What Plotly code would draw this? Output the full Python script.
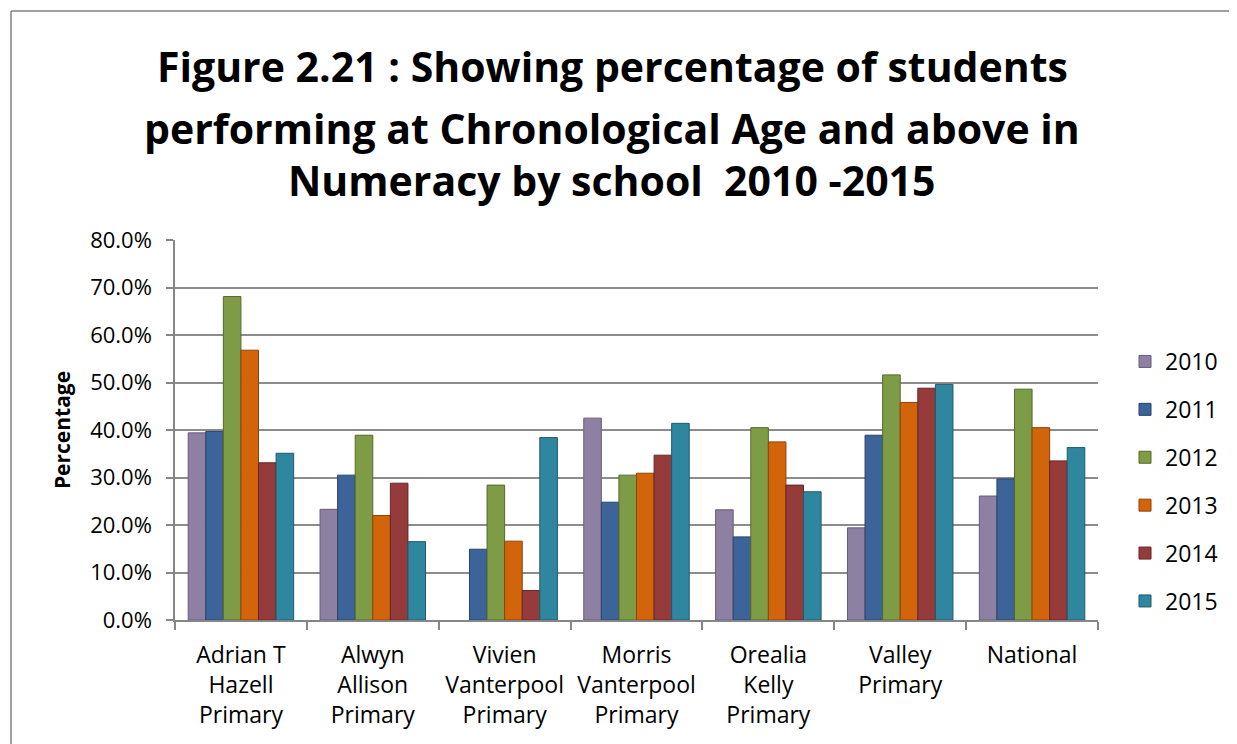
import plotly.graph_objects as go

schools = [
    "Adrian T<br>Hazell<br>Primary",
    "Alwyn<br>Allison<br>Primary",
    "Vivien<br>Vanterpool<br>Primary",
    "Morris<br>Vanterpool<br>Primary",
    "Orealia<br>Kelly<br>Primary",
    "Valley<br>Primary",
    "National",
]

years = ["2010", "2011", "2012", "2013", "2014", "2015"]

y2010 = [39.4, 23.3, None, 42.5, 23.2, 19.4, 26.1]
y2011 = [39.7, 30.5, 14.9, 24.8, 17.5, 38.9, 29.7]
y2012 = [68.1, 38.9, 28.4, 30.5, 40.5, 51.6, 48.6]
y2013 = [56.8, 22.0, 16.6, 30.9, 37.5, 45.8, 40.5]
y2014 = [33.1, 28.8, 6.2, 34.7, 28.4, 48.8, 33.5]
y2015 = [35.1, 16.5, 38.4, 41.4, 27.0, 49.6, 36.3]

series = [y2010, y2011, y2012, y2013, y2014, y2015]
colors = ["#8E80A3", "#3C6499", "#7E9C46", "#D2640C", "#963B3B", "#2F879F"]
edges = ["#675C78", "#28436A", "#55692E", "#8E4308", "#652727", "#1F5A6B"]

fig = go.Figure()
for i, (yr, vals) in enumerate(zip(years, series)):
    fig.add_trace(go.Bar(
        x=schools, y=vals, name=yr,
        marker=dict(color=colors[i], line=dict(color=edges[i], width=1)),
        legendgroup=yr,
    ))

font = "Open Sans, Lato, sans-serif"

# page pixel positions (body has an 8px margin); plot area x 175..1098, y 240..620
def py(p):
    return (620 - p) / 380.0

def px_(p):
    return (p - 175) / 923.0

title_lines = [
    "Figure 2.21 : Showing percentage of students",
    "performing at Chronological Age and above in",
    "Numeracy by school  2010 -2015",
]
title_y = [66, 128, 180]
annotations = []
for t, yy in zip(title_lines, title_y):
    annotations.append(dict(
        text="<b>%s</b>" % t, x=px_(612), y=py(yy), xref="paper", yref="paper",
        xanchor="center", yanchor="middle", showarrow=False,
        font=dict(family=font, size=41, color="black"),
    ))

shapes = [
    dict(type="line", xref="paper", yref="paper", x0=px_(11), x1=px_(1260),
         y0=py(11), y1=py(11), line=dict(color="#808080", width=1.5)),
    dict(type="line", xref="paper", yref="paper", x0=px_(11), x1=px_(11),
         y0=py(11), y1=py(760), line=dict(color="#808080", width=1.5)),
]

fig.update_layout(
    width=1237, height=744,
    margin=dict(l=167, r=147, t=232, b=132),
    paper_bgcolor="white", plot_bgcolor="white",
    barmode="group", bargap=0.2, bargroupgap=0,
    font=dict(family=font, color="black"),
    annotations=annotations,
    shapes=shapes,
    legend=dict(
        x=px_(1125), y=py(340), xanchor="left", yanchor="top",
        font=dict(family=font, size=23, color="black"),
        tracegroupgap=15, traceorder="grouped",
        bgcolor="rgba(0,0,0,0)",
    ),
    showlegend=True,
)

fig.update_xaxes(
    type="category", showline=True, linecolor="#868686", linewidth=1.5,
    ticks="outside", tickson="boundaries", ticklen=8, tickcolor="#868686",
    tickwidth=1.5,
    tickfont=dict(family=font, size=23, color="black"),
    ticklabelstandoff=14,
    showgrid=False,
)
fig.update_yaxes(
    range=[0, 80], dtick=10, tickformat=".1f", ticksuffix="%",
    showline=True, linecolor="#868686", linewidth=1.5,
    ticks="outside", ticklen=7, tickcolor="#868686", tickwidth=1.5,
    showgrid=True, gridcolor="#8C8C8C", gridwidth=1.5,
    tickfont=dict(family=font, size=22, color="black"),
    ticklabelstandoff=10,
    title=dict(text="<b>Percentage</b>", font=dict(family=font, size=21, color="black"),
               standoff=14),
    zeroline=False,
)

fig.write_html("out.html")
